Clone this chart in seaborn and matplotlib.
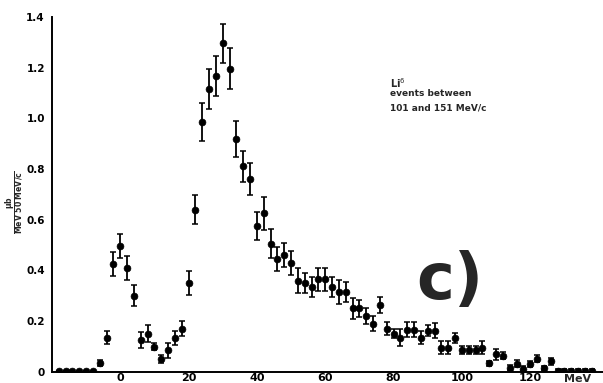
import numpy as np
import pandas as pd
import matplotlib
matplotlib.use("Agg")
import matplotlib.pyplot as plt
import seaborn as sns

# ---- data ----
energy = list(range(-18, 140, 2))
cross_section = [
    0.005, 0.005, 0.005, 0.005, 0.005, 0.005,
    0.035, 0.135, 0.425, 0.495, 0.41, 0.30, 0.125, 0.15, 0.10, 0.05, 0.085,
    0.135, 0.17, 0.35, 0.64, 0.985, 1.115, 1.165, 1.295, 1.195, 0.92, 0.81, 0.76,
    0.575, 0.625, 0.505, 0.445, 0.46, 0.43, 0.36, 0.35, 0.335, 0.365, 0.365,
    0.335, 0.315, 0.315, 0.25, 0.25, 0.22, 0.19, 0.265, 0.17, 0.15,
    0.135, 0.167, 0.167, 0.135, 0.163, 0.163, 0.096, 0.096, 0.133, 0.087, 0.087,
    0.087, 0.096, 0.034, 0.07, 0.064, 0.017, 0.032, 0.013, 0.03, 0.052, 0.015, 0.041,
    0.005, 0.005, 0.005, 0.005, 0.005, 0.005,
]
error = [
    0.0, 0.0, 0.0, 0.0, 0.0, 0.0,
    0.01, 0.026, 0.048, 0.047, 0.047, 0.041, 0.031, 0.033, 0.015, 0.015, 0.03,
    0.028, 0.03, 0.048, 0.056, 0.075, 0.08, 0.079, 0.076, 0.081, 0.071, 0.062, 0.063,
    0.056, 0.064, 0.057, 0.049, 0.048, 0.048, 0.048, 0.038, 0.041, 0.046, 0.045,
    0.04, 0.046, 0.038, 0.041, 0.032, 0.032, 0.03, 0.031, 0.026, 0.018,
    0.033, 0.028, 0.029, 0.026, 0.023, 0.03, 0.024, 0.024, 0.02, 0.016, 0.016,
    0.016, 0.026, 0.01, 0.022, 0.015, 0.01, 0.013, 0.01, 0.012, 0.013, 0.008, 0.012,
    0.008, 0.008, 0.008, 0.008, 0.008, 0.008,
]
x_ticks = [0, 20, 40, 60, 80, 100, 120]
x_tick_labels = ["0", "20", "40", "60", "80", "100", "120"]
y_ticks = [0, 0.2, 0.4, 0.6, 0.8, 1.0, 1.2, 1.4]
y_tick_labels = ["0", "0.2", "0.4", "0.6", "0.8", "1.0", "1.2", "1.4"]

df = pd.DataFrame({"E": energy, "sigma": cross_section, "err": error})

sns.set_theme(style="white")
plt.rcParams["font.family"] = ["DejaVu Sans"]

fig = plt.figure(figsize=(6.03, 3.83), dpi=100)
ax = fig.add_axes([0.086, 0.029, 0.914, 0.927])

ax.errorbar(df["E"], df["sigma"], yerr=df["err"], fmt="none",
            ecolor="black", elinewidth=1.3, capsize=2.2, capthick=1.1, zorder=2)
sns.scatterplot(data=df, x="E", y="sigma", ax=ax, color="black",
                s=24, edgecolor="black", linewidth=0.5, zorder=3, legend=False)

ax.set_xlim(-20, 141.3)
ax.set_ylim(0, 1.4)
ax.set_xticks(x_ticks)
ax.set_xticklabels(x_tick_labels, fontsize=8, fontweight="bold")
ax.set_yticks(y_ticks)
ax.set_yticklabels(y_tick_labels, fontsize=7.5, fontweight="bold")
ax.tick_params(axis="x", direction="in", length=4, width=1.0, pad=1, colors="black")
ax.tick_params(axis="y", direction="out", length=4, width=1.0, pad=1, colors="black")
ax.set_xlabel("")
ax.set_ylabel("")
for s in ["top", "right"]:
    ax.spines[s].set_visible(False)
for s in ["left", "bottom"]:
    ax.spines[s].set_color("black")
    ax.spines[s].set_linewidth(1.4)

ax.text(134, -0.01, "MeV", ha="center", va="top", fontsize=8, fontweight="bold",
        transform=ax.transData, clip_on=False)

fig.text(0.025, 0.473, r"$\frac{\mathbf{\mu b}}{\mathbf{MeV\ 50\ MeV/c}}$",
         rotation=90, ha="center", va="center", fontsize=8)

ax.text(79.0, 1.14, r"L$\mathbf{i}^{6}$", fontsize=7, fontweight="bold", ha="left", va="center")
ax.text(79.0, 1.097, "events between", fontsize=6.5, fontweight="bold", ha="left", va="center")
ax.text(79.0, 1.042, "101 and 151 MeV/c", fontsize=6.5, fontweight="bold", ha="left", va="center")

ax.text(96.5, 0.36, "c)", fontsize=46, fontweight="heavy", ha="center", va="center")

fig.savefig("out.png", dpi=100, facecolor="white")
